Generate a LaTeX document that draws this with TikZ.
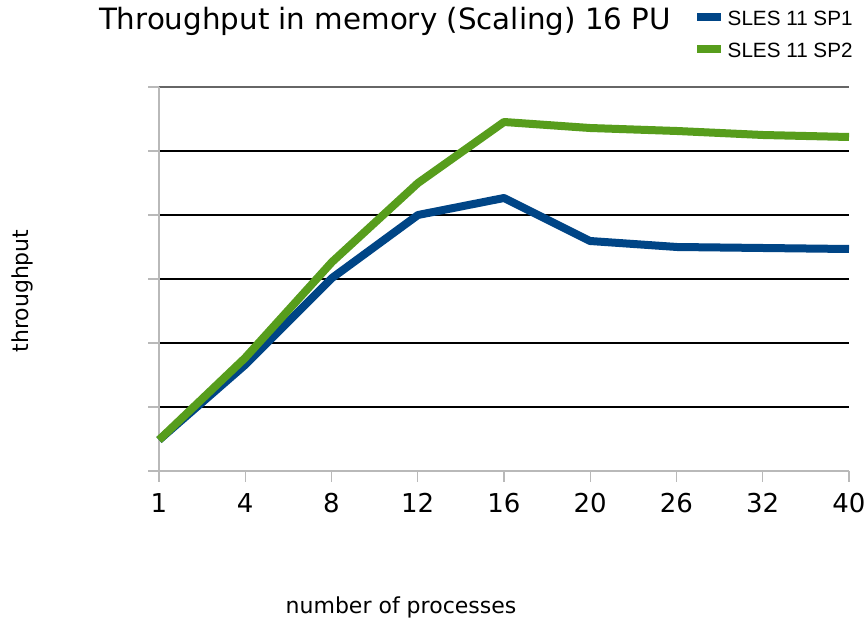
\documentclass[tikz,border=0pt]{standalone}
\usepackage{fontspec}
\setmainfont{DejaVu Sans}
\newfontfamily\legendfont{Liberation Sans}
\definecolor{spone}{HTML}{004586}
\definecolor{sptwo}{HTML}{579D1C}
\begin{document}
\begin{tikzpicture}[x=0.75pt,y=-0.75pt,
  grid/.style={black,line width=0.85pt},
  axisline/.style={gray!55,line width=1.1pt},
  series/.style={line width=6pt,line join=round},
  ticklabel/.style={font=\fontsize{19.5}{22}\selectfont,anchor=center},
  axislabel/.style={font=\fontsize{16.5}{19}\selectfont},
  legendtext/.style={font=\legendfont\fontsize{15.5}{18}\selectfont,anchor=west}]
\useasboundingbox[fill=white] (0,0) rectangle (865,620);
% horizontal grid lines
\foreach \y in {151,215,279,343,407} \draw[grid] (159,\y) -- (849,\y);
\draw[gray!80!black,line width=1.1pt] (159,87) -- (849,87);
% axes and ticks
\draw[axisline] (159,87) -- (159,471);
\draw[axisline] (148,471) -- (849,471);
\foreach \y in {87,151,215,279,343,407,471} \draw[axisline] (148,\y) -- (159,\y);
\foreach \i/\lab in {0/1,1/4,2/8,3/12,4/16,5/20,6/26,7/32,8/40}{
  \draw[axisline] ({159+86.25*\i},471) -- ({159+86.25*\i},482);
  \node[ticklabel] (t\i) at ({159+86.25*\i},503) {\lab};
}
% data series
\draw[series,spone] (159,440) -- (245,365) -- (332,278) -- (418,215) -- (504,198)
  -- (590,241) -- (677,247) -- (763,248) -- (849,249);
\draw[series,sptwo] (159,440) -- (245,358) -- (332,262) -- (418,183) -- (504,122)
  -- (590,128) -- (677,131) -- (763,135) -- (849,137);
% title and axis labels
\node[font=\fontsize{22}{26}\selectfont] (title) at (385,21) {Throughput in memory (Scaling) 16 PU};
\node[axislabel,rotate=90] (ylab) at (22,291) {throughput};
\node[axislabel] (xlab) at (401,607) {number of processes};
% legend
\draw[spone,line width=6pt] (697,17) -- (721,17);
\node[legendtext] (l1) at (723,18) {SLES 11 SP1};
\draw[sptwo,line width=6pt] (697,49) -- (721,49);
\node[legendtext] (l2) at (723,50) {SLES 11 SP2};
\end{tikzpicture}
\end{document}
